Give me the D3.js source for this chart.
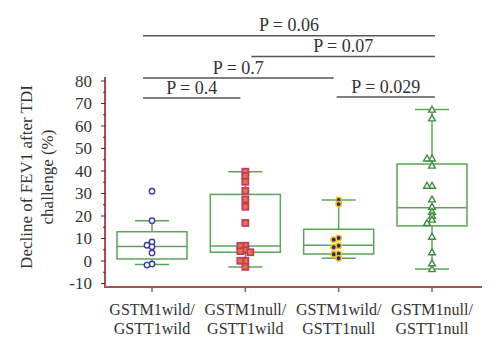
<!DOCTYPE html>
<html>
<head>
<meta charset="utf-8">
<script src="https://cdnjs.cloudflare.com/ajax/libs/d3/7.8.5/d3.min.js"></script>
<style>
  body { margin: 0; background: #fff; }
  text { font-family: "Liberation Serif", "DejaVu Serif", serif; fill: #333; }
</style>
</head>
<body>
<div id="chart"></div>
<script>
// categories (two-line tick labels)
var categories = ["GSTM1wild/GSTT1wild", "GSTM1null/GSTT1wild", "GSTM1wild/GSTT1null", "GSTM1null/GSTT1null"];
var labelLines = [["GSTM1wild/", "GSTT1wild"], ["GSTM1null/", "GSTT1wild"], ["GSTM1wild/", "GSTT1null"], ["GSTM1null/", "GSTT1null"]];

// box statistics
var whiskerLow  = [-1.6, -2.7, 1.2, -3.6];
var q1          = [0.9, 3.9, 3.1, 15.6];
var median      = [6.4, 6.7, 7.0, 23.7];
var q3          = [13.0, 29.6, 14.1, 43.1];
var whiskerHigh = [17.9, 39.7, 27.1, 67.3];

// individual observations
var pointsWildWild = [31.0, 17.9, 8.5, 7.0, 6.3, 3.6, -1.3, -1.8];
var pointsNullWild = [39.7, 37.8, 35.2, 31.2, 27.4, 24.1, 16.9, 6.8, 6.7, 4.9, 4.4, 3.9, 0.1, 0.1, -2.6];
var pointsWildNull = [27.1, 25.3, 10.2, 9.5, 6.8, 6.1, 3.2, 3.0, 1.2];
var pointsNullNull = [67.3, 63.4, 45.6, 45.6, 42.4, 33.5, 33.5, 27.4, 24.1, 21.9, 20.1, 18.4, 16.9, 10.8, 3.9, -1.0, -3.6];

// y ticks
var yTicks = [-10, 0, 10, 20, 30, 40, 50, 60, 70, 80];

// pairwise comparisons: from category index, to category index, label, row (0 = lowest)
var compFrom  = [0, 2, 0, 1, 0];
var compTo    = [1, 3, 2, 3, 3];
var compLabel = ["P = 0.4", "P = 0.029", "P = 0.7", "P = 0.07", "P = 0.06"];
var compRow   = [0, 0, 1, 2, 3];


BoxVis = function(_parentElement){
    this.parentElement = _parentElement;
    this.points = [pointsWildWild, pointsNullWild, pointsWildNull, pointsNullNull];
    this.initVis();
}

BoxVis.prototype.initVis = function(){
    var vis = this;

    vis.width = 500;
    vis.height = 351;

    vis.svg = d3.select("#" + vis.parentElement).append("svg")
        .attr("width", vis.width)
        .attr("height", vis.height);

    // plot frame
    vis.left = 105;
    vis.right = 482;
    vis.bottom = 287;
    vis.top = 77;

    vis.x = d3.scalePoint()
        .domain(categories)
        .range([152, 432]);

    vis.y = d3.scaleLinear()
        .domain([-10, 80])
        .range([283.5, 81]);

    vis.axisColor = "#a0574a";
    vis.boxColor = "#5ba45b";

    vis.updateVis();
}

// simple beeswarm: push a point sideways when it would sit on one already placed
BoxVis.prototype.swarm = function(values){
    var vis = this;
    var placed = [];
    var step = 5, minDist = 3.4;
    var order = [0, -1, 1, -2, 2, -3, 3];
    values.forEach(function(v){
        var py = vis.y(v);
        for (var k = 0; k < order.length; k++) {
            var dx = order[k] * step;
            var clash = placed.some(function(p){
                return Math.hypot(p.dx - dx, p.py - py) < minDist;
            });
            if (!clash) { placed.push({v: v, py: py, dx: dx}); return; }
        }
        placed.push({v: v, py: py, dx: 0});
    });
    return placed;
}

BoxVis.prototype.updateVis = function(){
    var vis = this;
    var step = vis.x.step();
    var boxW = step * 0.75;
    var capW = step * 0.365;

    // y axis line, ticks
    var gy = vis.svg.append("g").attr("class", "y-axis");
    gy.append("line")
        .attr("x1", vis.left).attr("x2", vis.left)
        .attr("y1", vis.top).attr("y2", vis.bottom)
        .attr("stroke", vis.axisColor).attr("stroke-width", 2);

    yTicks.forEach(function(t){
        gy.append("line")
            .attr("x1", vis.left - 4).attr("x2", vis.left)
            .attr("y1", vis.y(t)).attr("y2", vis.y(t))
            .attr("stroke", "#333").attr("stroke-width", 1);
        gy.append("text")
            .attr("x", vis.left - 13)
            .attr("y", vis.y(t))
            .attr("dy", "0.35em")
            .attr("text-anchor", "end")
            .attr("font-size", 17)
            .text(t);
        // minor tick half way
        if (t < 80) {
            gy.append("line")
                .attr("x1", vis.left - 2).attr("x2", vis.left)
                .attr("y1", vis.y(t + 5)).attr("y2", vis.y(t + 5))
                .attr("stroke", "#333").attr("stroke-width", 1);
        }
    });

    // y title
    var title = vis.svg.append("text")
        .attr("transform", "translate(32,177) rotate(-90)")
        .attr("text-anchor", "middle")
        .attr("font-size", 17);
    title.append("tspan").attr("x", 0).attr("y", 0).text("Decline of FEV1 after TDI");
    title.append("tspan").attr("x", 0).attr("y", 20.5).text("challenge (%)");

    // x axis
    var gx = vis.svg.append("g").attr("class", "x-axis");
    gx.append("line")
        .attr("x1", vis.left - 1).attr("x2", vis.right)
        .attr("y1", vis.bottom).attr("y2", vis.bottom)
        .attr("stroke", vis.axisColor).attr("stroke-width", 2);

    categories.forEach(function(c, i){
        var cx = vis.x(c);
        gx.append("line")
            .attr("x1", cx).attr("x2", cx)
            .attr("y1", vis.bottom).attr("y2", vis.bottom + 5)
            .attr("stroke", vis.axisColor).attr("stroke-width", 1.5);
        var t = gx.append("text")
            .attr("text-anchor", "middle")
            .attr("font-size", 16);
        t.append("tspan").attr("x", cx).attr("y", vis.bottom + 27.5).text(labelLines[i][0]);
        t.append("tspan").attr("x", cx).attr("y", vis.bottom + 46.5).text(labelLines[i][1]);
    });

    // boxes
    var gb = vis.svg.append("g").attr("class", "boxes")
        .attr("stroke", vis.boxColor).attr("stroke-width", 1.5).attr("fill", "none");

    categories.forEach(function(c, i){
        var cx = vis.x(c);
        gb.append("line")
            .attr("x1", cx).attr("x2", cx)
            .attr("y1", vis.y(whiskerHigh[i])).attr("y2", vis.y(q3[i]));
        gb.append("line")
            .attr("x1", cx).attr("x2", cx)
            .attr("y1", vis.y(q1[i])).attr("y2", vis.y(whiskerLow[i]));
        gb.append("rect")
            .attr("x", cx - boxW / 2)
            .attr("y", vis.y(q3[i]))
            .attr("width", boxW)
            .attr("height", vis.y(q1[i]) - vis.y(q3[i]));
        gb.append("line")
            .attr("x1", cx - boxW / 2).attr("x2", cx + boxW / 2)
            .attr("y1", vis.y(median[i])).attr("y2", vis.y(median[i]));
        [whiskerHigh[i], whiskerLow[i]].forEach(function(w){
            gb.append("line")
                .attr("x1", cx - capW / 2).attr("x2", cx + capW / 2)
                .attr("y1", vis.y(w)).attr("y2", vis.y(w));
        });
    });

    // points
    var gp = vis.svg.append("g").attr("class", "points");
    var triangle = d3.symbol().type(d3.symbolTriangle).size(20);

    vis.points.forEach(function(vals, i){
        var cx = vis.x(categories[i]);
        var placed = vis.swarm(vals);
        placed.forEach(function(p){
            var px = cx + p.dx;
            if (i === 0) {
                gp.append("circle").attr("cx", px).attr("cy", p.py).attr("r", 2.7)
                    .attr("fill", "#fff").attr("stroke", "#3b3b9c").attr("stroke-width", 1.4);
            } else if (i === 1) {
                gp.append("rect").attr("x", px - 3).attr("y", p.py - 3)
                    .attr("width", 6).attr("height", 6)
                    .attr("fill", "#e4792c").attr("stroke", "#c23a6c").attr("stroke-width", 1.8);
            } else if (i === 2) {
                gp.append("circle").attr("cx", px).attr("cy", p.py).attr("r", 2.7)
                    .attr("fill", "#28287e").attr("stroke", "#f2c21a").attr("stroke-width", 1.5);
            } else {
                gp.append("path").attr("d", triangle)
                    .attr("transform", "translate(" + px + "," + (p.py + 0.6) + ")")
                    .attr("fill", "#fff").attr("stroke", "#3c8c3c").attr("stroke-width", 1.4);
            }
        });
    });

    // comparison brackets
    var gc = vis.svg.append("g").attr("class", "comparisons");
    var rowY = [98, 78, 56.5, 35.7];
    compLabel.forEach(function(lab, k){
        var x1 = vis.x(categories[compFrom[k]]) + (compFrom[k] === 0 ? -9 : (compFrom[k] === 1 ? 6 : -2));
        var x2 = vis.x(categories[compTo[k]]) + (compTo[k] === 3 ? 3 : -5);
        var ly = rowY[compRow[k]] - (k === 1 ? 1 : 0);
        gc.append("line")
            .attr("x1", x1).attr("x2", x2)
            .attr("y1", ly).attr("y2", ly)
            .attr("stroke", "#555").attr("stroke-width", 1.6);
        gc.append("text")
            .attr("x", (x1 + x2) / 2)
            .attr("y", ly - 4.5)
            .attr("text-anchor", "middle")
            .attr("font-size", 18)
            .text(lab);
    });
}

var boxVis = new BoxVis("chart");
</script>
</body>
</html>
